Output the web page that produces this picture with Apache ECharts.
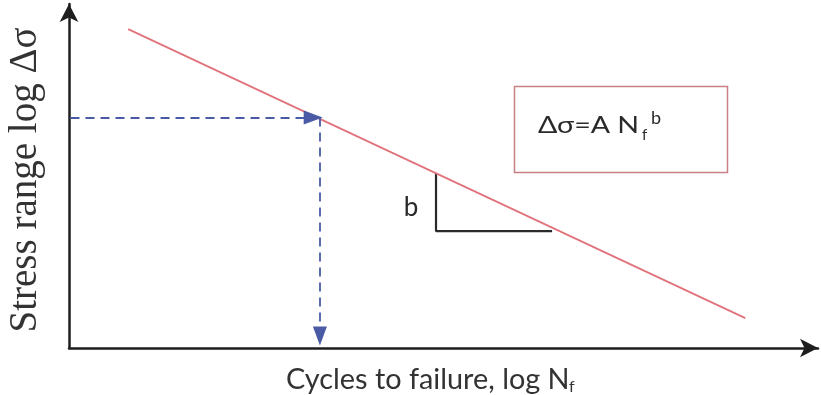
<!DOCTYPE html>
<html>
<head>
<meta charset="utf-8">
<script src="https://cdn.jsdelivr.net/npm/echarts@6/dist/echarts.min.js"></script>
<style>
  html, body { margin: 0; padding: 0; background: #fff; }
  #chart { width: 821px; height: 395px; }
</style>
</head>
<body>
<div id="chart"></div>
<script>
// S-N curve (Basquin relation), drawn on log-log axes without tick values
const logN = [0.79, 9.03];        // log cycles to failure, ends of the curve
const logS = [9.27, 0.87];        // log stress range, ends of the curve

const designN = 3.35;             // read-off point on the curve
const designS = 6.70;
const hArrowEnd = 3.26;           // where the horizontal guide's arrowhead is centred
const vArrowEnd = 0.35;           // where the vertical guide's arrowhead is centred

const slopeN = [4.90, 4.90, 6.45];  // slope triangle: vertical leg, then horizontal leg
const slopeS = [5.09, 3.40, 3.40];

const xTitle = 'Cycles to failure, log N';
const yTitle = 'Stress range log Δσ';
const formula = 'Δσ=A N';

const curve = logN.map((n, i) => [n, logS[i]]);
const triangle = slopeN.map((n, i) => [n, slopeS[i]]);

const chart = echarts.init(document.getElementById('chart'));

const axisBase = {
  type: 'value',
  min: 0,
  max: 10,
  axisTick: { show: false },
  axisLabel: { show: false },
  splitLine: { show: false },
  axisLine: {
    show: true,
    symbol: ['none', 'arrow'],
    symbolSize: [14, 18],
    lineStyle: { color: '#1e1e1e', width: 2.5 }
  }
};

const ink = '#2a2a2a';

chart.setOption({
  animation: false,
  grid: { left: 69, right: 3, top: 4, bottom: 47 },
  xAxis: Object.assign({}, axisBase),
  yAxis: Object.assign({}, axisBase),
  series: [
    {
      type: 'line',
      data: curve,
      symbol: 'none',
      lineStyle: { color: '#e0737b', width: 1.8 },
      z: 3
    },
    {
      type: 'line',
      data: triangle,
      symbol: 'none',
      lineStyle: { color: ink, width: 2.2 },
      z: 2
    },
    {
      type: 'line',
      data: [],
      markLine: {
        silent: true,
        symbol: ['none', 'triangle'],
        symbolSize: [14, 19],
        label: { show: false },
        lineStyle: { color: '#4a5ba6', width: 1.8, type: [9, 6] },
        itemStyle: { color: '#2c459c' },
        data: [
          [{ coord: [0.02, designS] }, { coord: [hArrowEnd, designS] }],
          [{ coord: [designN, designS] }, { coord: [designN, vArrowEnd] }]
        ]
      }
    }
  ],
  graphic: [
    {
      type: 'rect',
      shape: { x: 514.5, y: 86.5, width: 213, height: 86 },
      style: { fill: 'none', stroke: '#c98084', lineWidth: 1.5 }
    },
    {
      type: 'text',
      x: 538,
      y: 125,
      scaleX: 1.19,
      style: { text: formula, fontFamily: 'Lato', fontSize: 24, fill: ink, align: 'left', verticalAlign: 'middle' }
    },
    {
      type: 'text',
      x: 642,
      y: 135,
      style: { text: 'f', fontFamily: 'Lato', fontSize: 15, fill: ink, align: 'left', verticalAlign: 'middle' }
    },
    {
      type: 'text',
      x: 651,
      y: 118,
      style: { text: 'b', fontFamily: 'Lato', fontSize: 18, fill: ink, align: 'left', verticalAlign: 'middle' }
    },
    {
      type: 'text',
      x: 411,
      y: 208,
      style: { text: 'b', fontFamily: 'Lato', fontSize: 26, fill: ink, align: 'center', verticalAlign: 'middle' }
    },
    {
      type: 'text',
      x: 286,
      y: 380,
      scaleX: 1.03,
      style: { text: xTitle, fontFamily: 'Lato', fontSize: 28, fill: '#333', align: 'left', verticalAlign: 'middle' }
    },
    {
      type: 'text',
      x: 569,
      y: 387,
      style: { text: 'f', fontFamily: 'Lato', fontSize: 16, fill: '#333', align: 'left', verticalAlign: 'middle' }
    },
    {
      type: 'text',
      x: 26,
      y: 180,
      rotation: Math.PI / 2,
      style: { text: yTitle, fontFamily: 'Liberation Serif', fontSize: 39, fill: '#333', align: 'center', verticalAlign: 'middle' }
    }
  ]
});
</script>
</body>
</html>
